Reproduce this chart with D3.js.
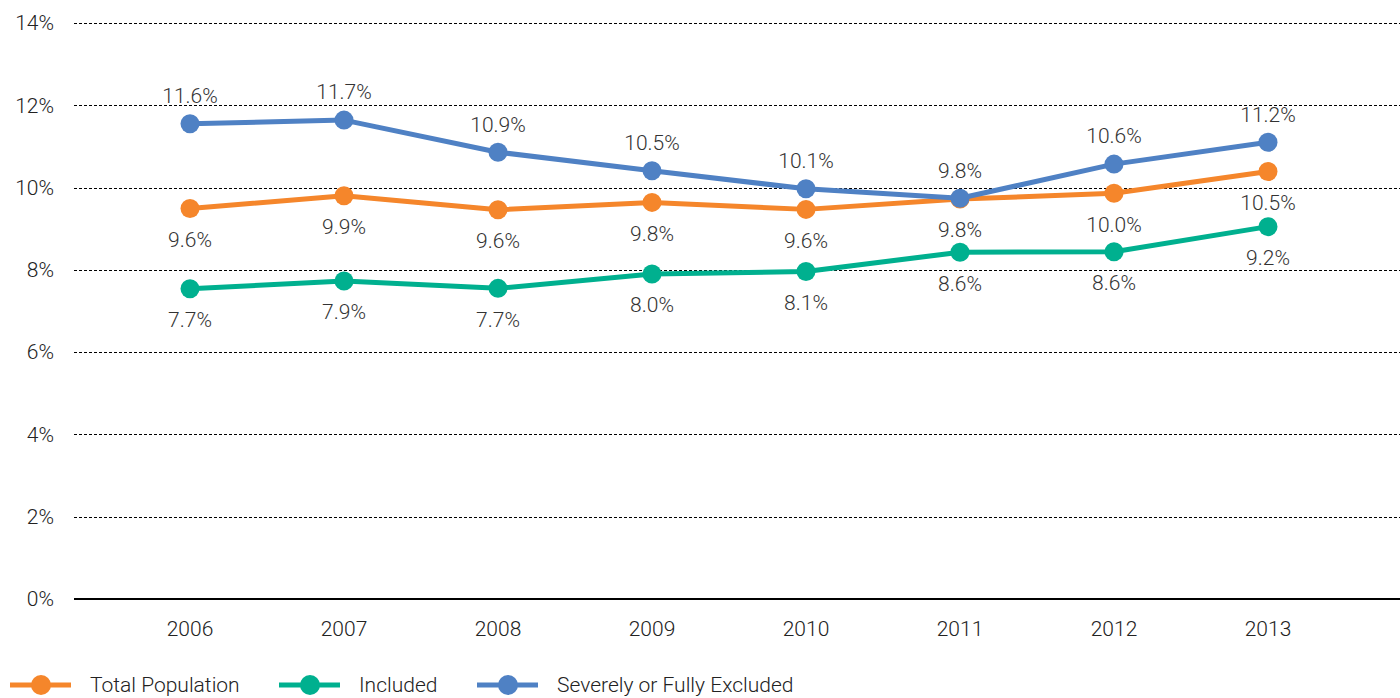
<!DOCTYPE html>
<html>
<head>
<meta charset="utf-8">
<script src="https://cdn.jsdelivr.net/npm/d3@7"></script>
<style>
  body { margin: 0; background: #fff; }
  svg text { font-family: Roboto, "Liberation Sans", sans-serif; font-weight: 300; fill: #222; }
</style>
</head>
<body>
<svg id="chart" width="1400" height="698"></svg>
<script>
// data
const years = ["2006", "2007", "2008", "2009", "2010", "2011", "2012", "2013"];
const totalPop = [9.49, 9.80, 9.46, 9.64, 9.47, 9.72, 9.86, 10.39];
const included = [7.54, 7.73, 7.55, 7.90, 7.96, 8.43, 8.44, 9.05];
const excluded = [11.55, 11.64, 10.86, 10.41, 9.97, 9.74, 10.57, 11.10];
const totalLabels = ["9.6%", "9.9%", "9.6%", "9.8%", "9.6%", "9.8%", "10.0%", "10.5%"];
const includedLabels = ["7.7%", "7.9%", "7.7%", "8.0%", "8.1%", "8.6%", "8.6%", "9.2%"];
const excludedLabels = ["11.6%", "11.7%", "10.9%", "10.5%", "10.1%", "9.8%", "10.6%", "11.2%"];
const yTicks = [0, 2, 4, 6, 8, 10, 12, 14];

const series = [
  { name: "Total Population", values: totalPop, labels: totalLabels, color: "#F5862B", above: false },
  { name: "Included", values: included, labels: includedLabels, color: "#00B08F", above: false },
  { name: "Severely or Fully Excluded", values: excluded, labels: excludedLabels, color: "#4F81C4", above: true }
];

const svg = d3.select("#chart");
const plotLeft = 74, plotRight = 1400, plotTop = 23, plotBottom = 599;
const fontSize = "21px";

let x = d3.scalePoint().domain(years).range([190, 1268]);
let y = d3.scaleLinear().domain([0, 14]).range([plotBottom, plotTop]);

// gridlines
svg.append("g")
  .selectAll("line")
  .data(yTicks.filter(d => d > 0))
  .enter()
  .append("line")
  .attr("x1", plotLeft)
  .attr("x2", plotRight)
  .attr("y1", d => Math.round(y(d)) + 0.5)
  .attr("y2", d => Math.round(y(d)) + 0.5)
  .attr("stroke", "#000")
  .attr("stroke-width", 1)
  .attr("stroke-dasharray", "3,2");

// baseline
svg.append("line")
  .attr("x1", plotLeft)
  .attr("x2", plotRight)
  .attr("y1", y(0))
  .attr("y2", y(0))
  .attr("stroke", "#000")
  .attr("stroke-width", 2);

// y axis labels
svg.append("g")
  .selectAll("text")
  .data(yTicks)
  .enter()
  .append("text")
  .attr("x", 54)
  .attr("y", d => y(d))
  .attr("dy", "0.35em")
  .attr("text-anchor", "end")
  .style("font-size", fontSize)
  .text(d => d + "%");

// x axis labels
svg.append("g")
  .selectAll("text")
  .data(years)
  .enter()
  .append("text")
  .attr("x", d => x(d))
  .attr("y", 629)
  .attr("dy", "0.35em")
  .attr("text-anchor", "middle")
  .style("font-size", fontSize)
  .text(d => d);

let lineGen = d3.line()
  .x((d, i) => x(years[i]))
  .y(d => y(d));

series.forEach(function (s) {
  let g = svg.append("g");
  g.append("path")
    .datum(s.values)
    .attr("fill", "none")
    .attr("stroke", s.color)
    .attr("stroke-width", 5)
    .attr("stroke-linejoin", "round")
    .attr("d", lineGen);
  g.selectAll("circle")
    .data(s.values)
    .enter()
    .append("circle")
    .attr("cx", (d, i) => x(years[i]))
    .attr("cy", d => y(d))
    .attr("r", 9.5)
    .attr("fill", s.color);
});

// data labels drawn on top
series.forEach(function (s) {
  svg.append("g")
    .selectAll("text")
    .data(s.values)
    .enter()
    .append("text")
    .attr("x", (d, i) => x(years[i]))
    .attr("y", d => y(d) + (s.above ? -28 : 31))
    .attr("dy", "0.35em")
    .attr("text-anchor", "middle")
    .style("font-size", fontSize)
    .style("fill", "#333")
    .text((d, i) => s.labels[i]);
});

// legend
const legendX = [10, 279, 477];
series.forEach(function (s, i) {
  let g = svg.append("g").attr("transform", "translate(" + legendX[i] + ",685)");
  g.append("line")
    .attr("x1", 0).attr("x2", 61)
    .attr("stroke", s.color)
    .attr("stroke-width", 5);
  g.append("circle")
    .attr("cx", 31).attr("r", 10)
    .attr("fill", s.color);
  g.append("text")
    .attr("x", 80)
    .attr("dy", "0.35em")
    .style("font-size", fontSize)
    .text(s.name);
});
</script>
</body>
</html>
